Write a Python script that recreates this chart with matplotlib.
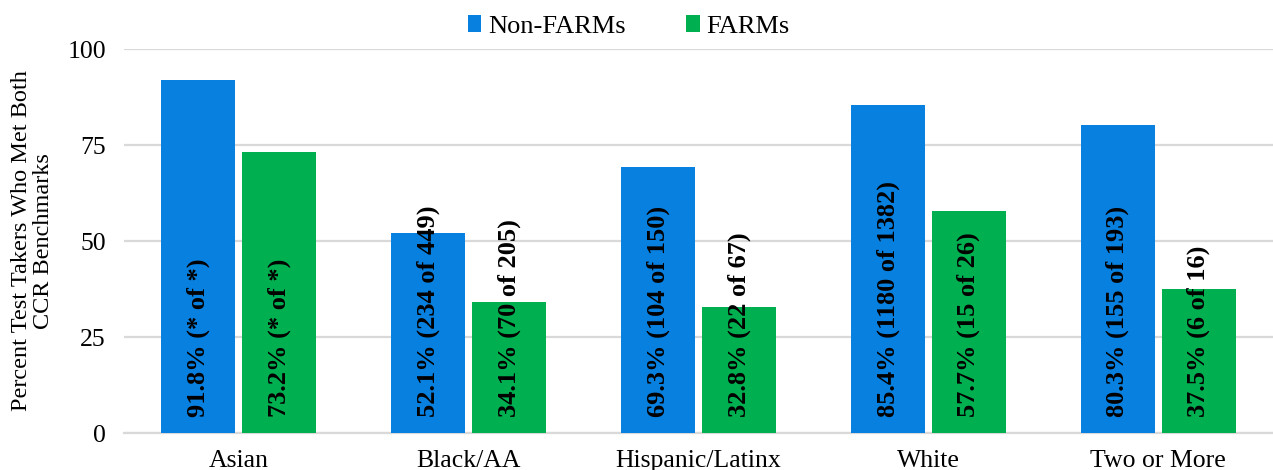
import matplotlib
matplotlib.use("Agg")
import matplotlib.pyplot as plt
import numpy as np

plt.rcParams['font.family'] = ['Liberation Serif', 'DejaVu Serif']

categories = ["Asian", "Black/AA", "Hispanic/Latinx", "White", "Two or More"]
non_farms = [91.8, 52.1, 69.3, 85.4, 80.3]
farms = [73.2, 34.1, 32.8, 57.7, 37.5]
non_farms_counts = ["* of *", "234 of 449", "104 of 150", "1180 of 1382", "155 of 193"]
farms_counts = ["* of *", "70 of 205", "22 of 67", "15 of 26", "6 of 16"]
yticks = [0, 25, 50, 75, 100]

blue = "#0880E0"
green = "#00B050"
grid_color = "#D9D9D9"

fig = plt.figure(figsize=(12.73, 4.70), dpi=100)
ax = fig.add_axes([124 / 1273, 37 / 470, 1 - 124 / 1273, 384 / 470])

x = np.arange(len(categories))
w = 0.322
gap = 0.03
off = w / 2 + gap / 2

b1 = ax.bar(x - off, non_farms, width=w, color=blue, label="Non-FARMs", zorder=3)
b2 = ax.bar(x + off, farms, width=w, color=green, label="FARMs", zorder=3)

for xi, v, c in zip(x - off, non_farms, non_farms_counts):
    ax.text(xi, 4.2, f"{v:.1f}% ({c})", rotation=90, ha="center", va="bottom",
            fontsize=19, fontweight="bold", color="black", zorder=4)
for xi, v, c in zip(x + off, farms, farms_counts):
    ax.text(xi, 4.2, f"{v:.1f}% ({c})", rotation=90, ha="center", va="bottom",
            fontsize=19, fontweight="bold", color="black", zorder=4)

ax.set_xlim(-0.5, len(categories) - 0.5)
ax.set_ylim(0, 100)
ax.set_yticks(yticks)
ax.set_xticks(x)
ax.set_xticklabels(categories, fontsize=18.5)
ax.tick_params(axis="y", labelsize=18.5, length=0, pad=13)
ax.tick_params(axis="x", length=0, pad=12)
ax.yaxis.grid(True, color=grid_color, linewidth=1.6, zorder=0)
ax.set_axisbelow(True)
for s in ["top", "right", "left"]:
    ax.spines[s].set_visible(False)
ax.spines["bottom"].set_color(grid_color)
ax.spines["bottom"].set_linewidth(1.6)

ax.set_ylabel("Percent Test Takers Who Met Both\nCCR Benchmarks", fontsize=17.5, linespacing=1.08)
ax.yaxis.set_label_coords((54 - 124) / 1149, 0.5)

fig.legend(handles=[b1, b2], loc="upper center", bbox_to_anchor=(0.494, 1.018), ncol=2,
           frameon=False, fontsize=19, handlelength=0.5, handleheight=0.6,
           handletextpad=0.27, columnspacing=2.3)

fig.savefig("out.png", dpi=100)
